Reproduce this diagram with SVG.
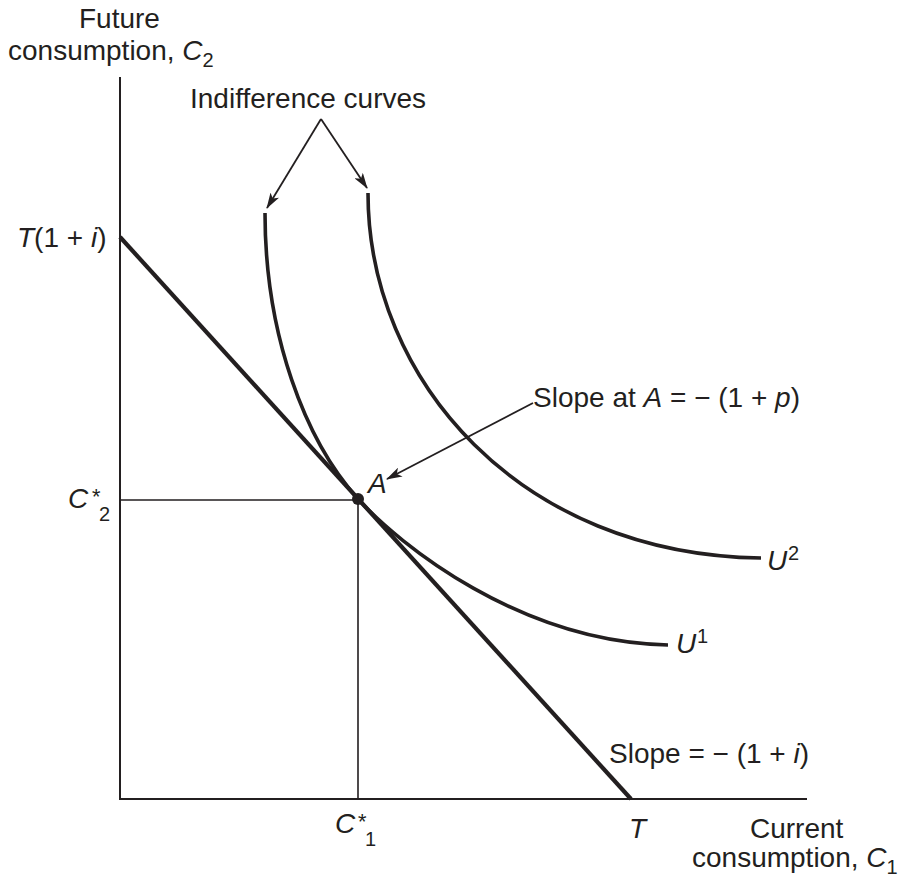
<svg xmlns="http://www.w3.org/2000/svg" width="900" height="878" viewBox="0 0 900 878">
<style>
text{font-family:"Liberation Sans",Arial,sans-serif;font-size:28px;fill:#231f20}
.it{font-style:italic}
.sm{font-size:20px}
.st{font-size:22px;font-style:italic}
.axis{stroke:#231f20;stroke-width:2;fill:none}
.guide{stroke:#231f20;stroke-width:1.6;fill:none}
.budget{stroke:#231f20;stroke-width:4.2;fill:none}
.curve{stroke:#231f20;stroke-width:3.6;fill:none}
.arr{stroke:#231f20;stroke-width:1.8;fill:none;marker-end:url(#ah)}
</style>
<defs>
<marker id="ah" viewBox="0 0 16 10" refX="15" refY="5" markerWidth="16" markerHeight="10" markerUnits="userSpaceOnUse" orient="auto">
<path d="M0,0 L16,5 L0,10 L4,5 Z" fill="#231f20"/>
</marker>
</defs>
<rect width="900" height="878" fill="#fff"/>
<g id="axes">
<path class="axis" d="M120,77 V799 H807"/>
</g>
<g id="connectors">
<path class="guide" d="M120,500 H358 V799"/>
<path class="arr" d="M321,119 L267,208"/>
<path class="arr" d="M321,119 L367,188"/>
<path class="arr" d="M533,403 L387,479"/>
</g>
<g id="budget-line">
<path class="budget" d="M120,237 L631,799"/>
</g>
<g id="U1">
<path class="curve" d="M265,213 C265,335 305,440 358,499 C400,545 520,642 668,645"/>
<text x="676" y="653" class="it">U</text><text x="697" y="643" class="sm">1</text>
</g>
<g id="U2">
<path class="curve" d="M368,193 C368,380 520,555 761,558"/>
<text x="767" y="570" class="it">U</text><text x="788" y="560" class="sm">2</text>
</g>
<g id="A">
<circle cx="358" cy="499" r="6" fill="#231f20"/>
<text x="368" y="493" class="it">A</text>
</g>
<g id="labels">
<text x="79" y="28">Future</text>
<text x="8" y="60">consumption, <tspan class="it">C</tspan><tspan class="sm" dy="7">2</tspan></text>
<text x="190" y="108">Indifference curves</text>
<text x="17" y="247"><tspan class="it">T</tspan>(1 + <tspan class="it">i</tspan>)</text>
<text x="68" y="508" class="it">C</text><text x="91" y="504" class="st">*</text><text x="99" y="521" class="sm">2</text>
<text x="335" y="833" class="it">C</text><text x="357" y="829" class="st">*</text><text x="365" y="846" class="sm">1</text>
<text x="533" y="407">Slope at <tspan class="it">A</tspan> = − (1 + <tspan class="it">p</tspan>)</text>
<text x="609" y="763">Slope = − (1 + <tspan class="it">i</tspan>)</text>
<text x="629" y="838" class="it">T</text>
<text x="750" y="838">Current</text>
<text x="692" y="867">consumption, <tspan class="it">C</tspan><tspan class="sm" dy="7">1</tspan></text>
</g>
</svg>
